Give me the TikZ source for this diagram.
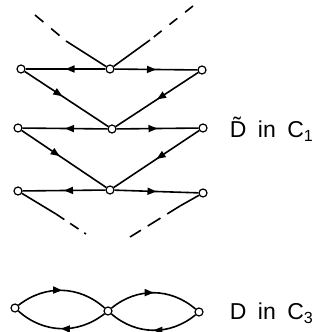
\documentclass[tikz,border=0pt]{standalone}
\usepackage{fontspec}
\setmainfont{Liberation Sans}
\usetikzlibrary{arrows.meta,decorations.markings}
\begin{document}
\begin{tikzpicture}[x=1pt,y=-1pt,line width=1.6pt,
  vertex/.style={draw, circle, fill=white, inner sep=0pt, minimum size=8pt, line width=1.2pt},
  midarrow/.style={postaction={decorate}, decoration={markings,
    mark=at position #1 with {\arrow{Triangle[length=9pt,width=7pt]}}}},
  midarrow/.default=0.5,
  lbl/.style={anchor=west, font=\fontsize{23}{24}\selectfont, inner sep=0pt}]
\useasboundingbox (0,0) rectangle (328,332);
% upper graph
\coordinate (t1) at (35,15);
\coordinate (t1s) at (66,41);
\coordinate (t2) at (193,6);
\coordinate (t2s) at (150,40);
\coordinate (b1) at (86,234);
\coordinate (b1s) at (56,214);
\coordinate (b2) at (130,237);
\coordinate (b2s) at (180,206);
\draw[dashed, dash pattern=on 11pt off 10pt] (t1) -- (t1s);
\draw[dashed, dash pattern=on 10pt off 10pt] (t2) -- (t2s);
\draw[dashed, dash pattern=on 10pt off 7pt] (b1s) -- (b1);
\draw[dashed, dash pattern=on 15pt off 8pt] (b2s) -- (b2);
\node[vertex] (l1) at (21,69) {};
\node[vertex] (m1) at (110,69) {};
\node[vertex] (r1) at (202,70) {};
\node[vertex] (l2) at (18,128) {};
\node[vertex] (m2) at (112,129) {};
\node[vertex] (r2) at (203,128) {};
\node[vertex] (l3) at (18,191) {};
\node[vertex] (m3) at (110,190) {};
\node[vertex] (r3) at (203,193) {};
\draw (t1s) -- (m1);
\draw (t2s) -- (m1);
\draw (l3) -- (b1s);
\draw (r3) -- (b2s);
\draw[midarrow] (m1) -- (l1);
\draw[midarrow] (m1) -- (r1);
\draw[midarrow] (m2) -- (l2);
\draw[midarrow] (m2) -- (r2);
\draw[midarrow] (m3) -- (l3);
\draw[midarrow] (m3) -- (r3);
\draw[midarrow=0.45] (l1) -- (m2);
\draw[midarrow] (r1) -- (m2);
\draw[midarrow=0.45] (l2) -- (m3);
\draw[midarrow] (r2) -- (m3);
\node[lbl] (dt) at (229,129) {\~{D}\hspace{0.5em}in\hspace{0.5em}C\textsubscript{1}};
% lower graph
\node[vertex] (a) at (15,308) {};
\node[vertex] (b) at (108,311) {};
\node[vertex] (c) at (199,312) {};
\draw[midarrow] (a) to[bend left=40] (b);
\draw[midarrow] (b) to[bend left=40] (a);
\draw[midarrow] (b) to[bend left=40] (c);
\draw[midarrow] (c) to[bend left=40] (b);
\node[lbl] (d) at (229,313) {D\hspace{0.5em}in\hspace{0.5em}C\textsubscript{3}};
\end{tikzpicture}
\end{document}
